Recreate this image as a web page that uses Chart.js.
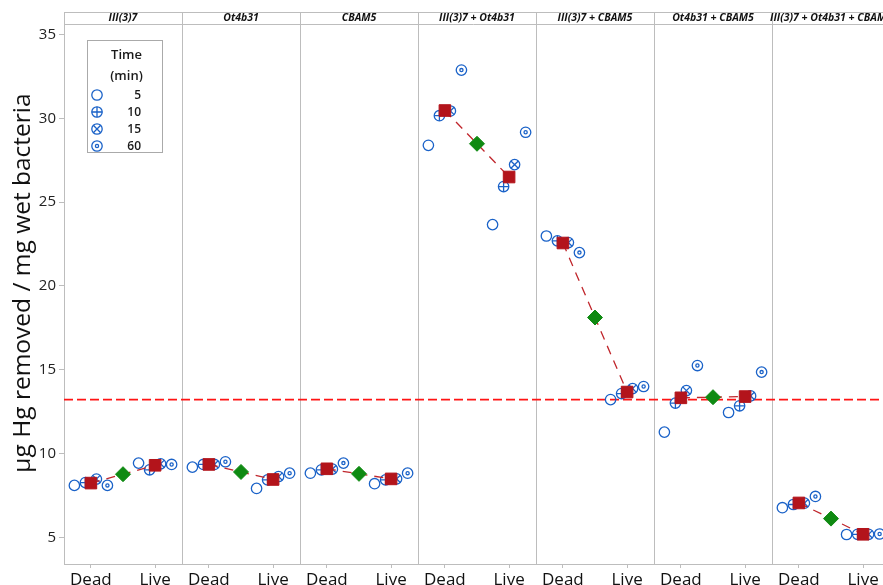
<!DOCTYPE html>
<html>
<head>
<meta charset="utf-8">
<title>Hg removal by strain combination</title>
<script src="https://cdn.jsdelivr.net/npm/chart.js@4.4.1/dist/chart.umd.min.js"></script>
<style>
  html, body { margin: 0; padding: 0; background: #ffffff; }
  #wrap { width: 883px; height: 585px; }
</style>
</head>
<body>
<div id="wrap"><canvas id="c" width="883" height="585"></canvas></div>
<script>
// Strain combinations (one facet each) and the two cell states
const panels = ['III(3)7', 'Ot4b31', 'CBAM5', 'III(3)7 + Ot4b31', 'III(3)7 + CBAM5', 'Ot4b31 + CBAM5', 'III(3)7 + Ot4b31 + CBAM5'];
const groups = ['Dead', 'Live'];
const times = [5, 10, 15, 60];

// µg Hg removed / mg wet bacteria, one value per panel, per exposure time
const dead5  = [8.10, 9.19, 8.83, 28.39, 22.98, 11.28, 6.77];
const dead10 = [8.27, 9.35, 9.03, 30.16, 22.69, 13.01, 6.96];
const dead15 = [8.48, 9.35, 9.07, 30.44, 22.59, 13.76, 7.04];
const dead60 = [8.10, 9.51, 9.43, 32.88, 21.99, 15.25, 7.44];
const live5  = [9.43, 7.92, 8.20, 23.66, 13.22, 12.45, 5.17];
const live10 = [9.03, 8.43, 8.43, 25.93, 13.58, 12.85, 5.18];
const live15 = [9.39, 8.63, 8.49, 27.24, 13.88, 13.44, 5.18];
const live60 = [9.35, 8.83, 8.83, 29.17, 14.00, 14.86, 5.20];

const yTicks = [5, 10, 15, 20, 25, 30, 35];
const yTitle = 'µg Hg removed / mg wet bacteria';

// ---- layout constants ----
const Y_MIN = 3.41, Y_MAX = 35.63;
const PANEL_PX = 118;
const X_MAX = (883 - 64) / PANEL_PX;
const GROUP_OFF = [-0.272, 0.272];
const JITTER = [-0.14, -0.0466, 0.0466, 0.14];
const BLUE = '#1a62c8';
const GRID = '#bdbdbd';
const FONT = "'Open Sans', 'Noto Sans', sans-serif";
const SYM_R = 5.2;
Chart.defaults.font.family = FONT;

const series = [[dead5, live5], [dead10, live10], [dead15, live15], [dead60, live60]];
const mean = a => a.reduce((s, v) => s + v, 0) / a.length;
const groupMeans = panels.map((p, i) => [0, 1].map(g => mean(series.map(s => s[g][i]))));
const grandMean = mean(series.flatMap(s => s[0].concat(s[1])));
const pos = (i, g) => i + 0.5 + GROUP_OFF[g];

// Marker glyph for each time: open circle plus an inner mark
const innerMarks = [null, { pointStyle: 'cross', radius: SYM_R }, { pointStyle: 'crossRot', radius: SYM_R }, { pointStyle: 'circle', radius: 1.6 }];

const datasets = [];
// overall mean diamonds
datasets.push({
  label: 'overall', data: groupMeans.map((m, i) => ({ x: i + 0.5, y: (m[0] + m[1]) / 2 })),
  pointStyle: 'rectRot', pointRadius: 7.5, backgroundColor: '#0f8a12', borderColor: '#0f8a12', borderWidth: 1
});
// Dead / Live means
datasets.push({
  label: 'means', data: groupMeans.flatMap((m, i) => [{ x: pos(i, 0), y: m[0] }, { x: pos(i, 1), y: m[1] }]),
  pointStyle: 'rect', pointRadius: 8.2, backgroundColor: '#b3141b', borderColor: '#b3141b', borderWidth: 1
});
// dashed connectors between the two means of each panel
groupMeans.forEach((m, i) => {
  datasets.push({
    label: 'link' + i, data: [{ x: pos(i, 0), y: m[0] }, { x: pos(i, 1), y: m[1] }],
    showLine: true, pointRadius: 0, borderColor: '#c0262c', borderWidth: 1.3, borderDash: [9, 7]
  });
});
// individual observations, one ring dataset per exposure time plus its inner mark
times.forEach((t, k) => {
  const pts = panels.flatMap((p, i) => [0, 1].map(g => ({ x: pos(i, g) + JITTER[k], y: series[k][g][i] })));
  if (innerMarks[k]) {
    datasets.push({
      label: t + ' mark', data: pts, pointStyle: innerMarks[k].pointStyle, pointRadius: innerMarks[k].radius,
      borderColor: BLUE, backgroundColor: 'rgba(0,0,0,0)', borderWidth: 1.3
    });
  }
  datasets.push({
    label: String(t), data: pts, pointStyle: 'circle', pointRadius: SYM_R,
    borderColor: BLUE, backgroundColor: 'rgba(0,0,0,0)', borderWidth: 1.3
  });
});
// grand mean reference line
datasets.push({
  label: 'grand', data: [{ x: 0, y: grandMean }, { x: X_MAX, y: grandMean }],
  showLine: true, pointRadius: 0, borderColor: '#ff1414', borderWidth: 1.6, borderDash: [9, 4]
});

const facetPlugin = {
  id: 'facets',
  beforeDatasetsDraw(chart) {
    const { ctx, chartArea: a, scales: { x } } = chart;
    const top = 12;
    ctx.save();
    ctx.strokeStyle = GRID; ctx.lineWidth = 1;
    ctx.beginPath();
    ctx.moveTo(a.left, top + 0.5); ctx.lineTo(chart.width, top + 0.5);
    ctx.moveTo(a.left, a.top + 0.5); ctx.lineTo(chart.width, a.top + 0.5);
    for (let i = 0; i <= panels.length; i++) {
      const px = Math.round(x.getPixelForValue(i)) + 0.5;
      ctx.moveTo(px, top); ctx.lineTo(px, a.bottom);
    }
    ctx.stroke();
    ctx.fillStyle = '#111';
    ctx.font = 'italic bold 10.5px ' + FONT;
    ctx.textAlign = 'center'; ctx.textBaseline = 'middle';
    panels.forEach((p, i) => ctx.fillText(p, x.getPixelForValue(i + 0.5), (top + a.top) / 2 + 0.5));
    ctx.restore();
  },
  afterDraw(chart) {
    const { ctx } = chart;
    ctx.save();
    // y-axis title
    ctx.fillStyle = '#111';
    ctx.font = '24.5px ' + FONT;
    ctx.textAlign = 'center'; ctx.textBaseline = 'middle';
    ctx.translate(23, 283);
    ctx.rotate(-Math.PI / 2);
    ctx.fillText(yTitle, 0, 0);
    ctx.restore();

    // Time legend
    const bx = 87.5, by = 40.5, bw = 75, bh = 112;
    ctx.save();
    ctx.fillStyle = '#fff';
    ctx.fillRect(bx, by, bw, bh);
    ctx.strokeStyle = '#aaaaaa'; ctx.lineWidth = 1;
    ctx.strokeRect(bx, by, bw, bh);
    ctx.fillStyle = '#1a1a1a';
    ctx.textAlign = 'center'; ctx.textBaseline = 'middle';
    ctx.font = '600 13px ' + FONT;
    ctx.fillText('Time', bx + 39, 55);
    ctx.fillText('(min)', bx + 39, 76);
    ctx.font = '600 12px ' + FONT;
    ctx.textAlign = 'right';
    const rows = [95, 112, 129, 146];
    ctx.strokeStyle = BLUE; ctx.fillStyle = 'rgba(0,0,0,0)'; ctx.lineWidth = 1.3;
    times.forEach((t, k) => {
      Chart.helpers.drawPoint(ctx, { pointStyle: 'circle', radius: SYM_R, borderWidth: 1.3, rotation: 0 }, 97, rows[k]);
      if (innerMarks[k]) {
        Chart.helpers.drawPoint(ctx, { pointStyle: innerMarks[k].pointStyle, radius: innerMarks[k].radius, borderWidth: 1.3, rotation: 0 }, 97, rows[k]);
      }
    });
    ctx.fillStyle = '#1a1a1a';
    times.forEach((t, k) => ctx.fillText(String(t), 141, rows[k] + 0.5));
    ctx.restore();
  }
};

new Chart(document.getElementById('c'), {
  type: 'scatter',
  data: { datasets },
  options: {
    responsive: false,
    animation: false,
    devicePixelRatio: 1,
    layout: { autoPadding: false, padding: { top: 24, left: 0, right: 0, bottom: 0 } },
    plugins: { legend: { display: false }, tooltip: { enabled: false } },
    scales: {
      x: {
        type: 'linear', min: 0, max: X_MAX,
        afterBuildTicks: s => { s.ticks = panels.flatMap((p, i) => groups.map((g, j) => ({ value: pos(i, j) }))); },
        afterFit: s => { s.height = 21; s.paddingLeft = 0; s.paddingRight = 0; },
        grid: { drawOnChartArea: false, color: GRID, tickLength: 4 },
        border: { color: GRID },
        ticks: { callback: (v, idx) => groups[idx % 2], autoSkip: false, maxRotation: 0, padding: 2, color: '#111', font: { size: 17 } }
      },
      y: {
        min: Y_MIN, max: Y_MAX,
        afterBuildTicks: s => { s.ticks = yTicks.map(v => ({ value: v })); },
        afterFit: s => { s.width = 64; s.paddingTop = 0; s.paddingBottom = 0; },
        grid: { drawOnChartArea: false, color: GRID, tickLength: 5 },
        border: { color: GRID },
        ticks: { padding: 3, color: '#222', font: { size: 15 } }
      }
    }
  },
  plugins: [facetPlugin]
});
</script>
</body>
</html>
